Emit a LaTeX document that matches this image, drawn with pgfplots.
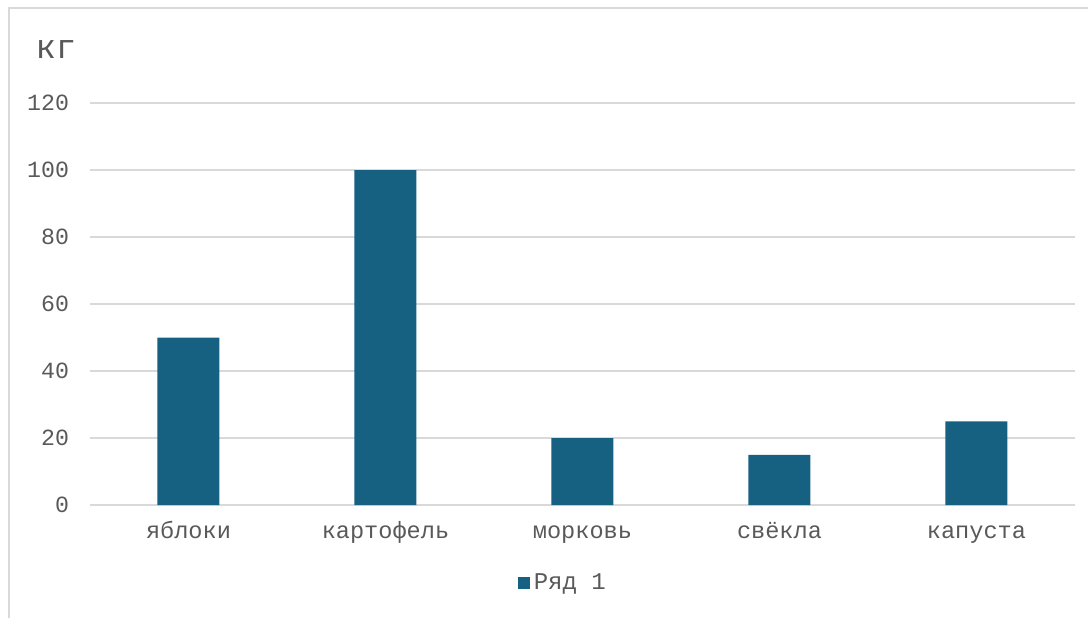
\documentclass[border=0pt]{standalone}
\usepackage{pgfplots}
\pgfplotsset{compat=1.18}
\usepackage{fontspec}
\setmainfont{Liberation Mono}
\definecolor{barc}{RGB}{22,96,130}
\definecolor{txt}{RGB}{89,89,89}
\definecolor{gridc}{RGB}{217,217,217}
\begin{document}
\begin{tikzpicture}
\useasboundingbox (0,0) rectangle (544pt,309pt);
\draw[gridc,line width=0.9pt] (4.5pt,0) -- (4.5pt,305pt) -- (544pt,305pt);
\begin{axis}[
  at={(45pt,56.5pt)}, anchor=south west,
  scale only axis, width=492.5pt, height=201pt,
  ybar, bar width=31pt,
  xmin=-0.5, xmax=4.5, ymin=0, ymax=120,
  xtick=data, xticklabels={яблоки,картофель,морковь,свёкла,капуста},
  ytick={0,20,...,120},
  axis line style={draw=none},
  major tick length=0pt,
  ymajorgrids, xmajorgrids=false, grid style={color=gridc,line width=0.9pt},
  tick label style={font=\fontsize{11.6pt}{13pt}\selectfont, text=txt},
  xticklabel style={font=\fontsize{11.8pt}{13pt}\selectfont},
  /pgf/number format/assume math mode=true,
  yticklabel style={xshift=-7pt},
  xticklabel style={anchor=base, yshift=-16.5pt},
  legend style={at={(0.481,-0.194)}, anchor=center, draw=none, fill=none,
    font=\fontsize{12pt}{13pt}\selectfont, text=txt,
    legend cell align=left, inner sep=0pt},
  legend image code/.code={\fill[barc] (0pt,-3pt) rectangle (6pt,3pt);},
  clip=false,
]
\addplot[fill=barc, draw=none] coordinates {(0,50) (1,100) (2,20) (3,15) (4,25)};
\addlegendentry{Ряд 1}
\end{axis}
\node[text=txt, font=\fontsize{17pt}{19pt}\selectfont] at (28pt,284pt) {кг};
\end{tikzpicture}
\end{document}
